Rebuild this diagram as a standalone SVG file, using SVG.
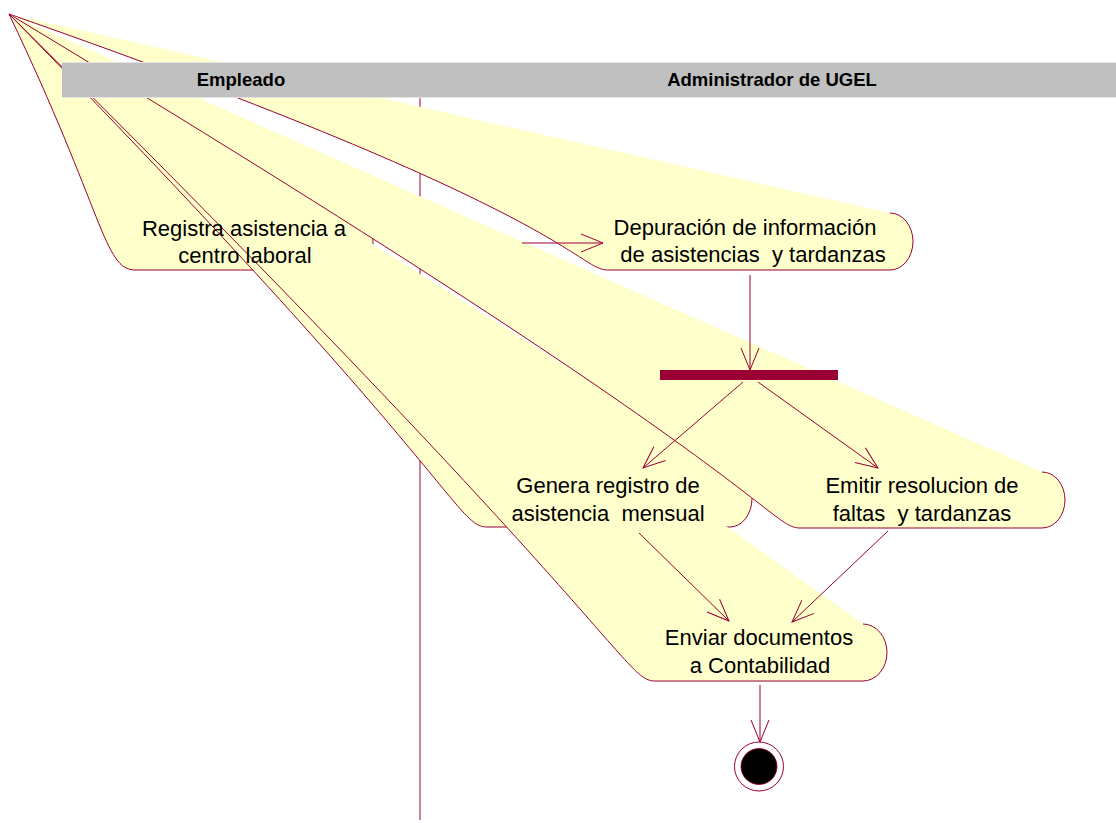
<svg xmlns="http://www.w3.org/2000/svg" width="1116" height="823" viewBox="0 0 1116 823">
<style>
.fill{fill:#FFFFCC;stroke:none}
.edge{fill:none;stroke:#990033;stroke-width:1}
.lbl{font-family:"Liberation Sans",Arial,sans-serif;font-size:22px;fill:#000;text-anchor:middle;white-space:pre}
.hdr{font-family:"Liberation Sans",Arial,sans-serif;font-size:18.5px;font-weight:bold;fill:#000;text-anchor:middle}
.conn{fill:none;stroke:#990033;stroke-width:1}
</style>
<defs>
<marker id="arr" markerUnits="userSpaceOnUse" markerWidth="30" markerHeight="24" viewBox="-25 -12 27 24" refX="0" refY="0" orient="auto">
<path d="M-22,-9 L0,0 L-22,9" fill="none" stroke="#990033" stroke-width="1"/>
</marker>
</defs>
<rect width="1116" height="823" fill="#fff"/>
<g id="swimlane-divider">
<line x1="420" y1="98" x2="420" y2="820" stroke="#990033" stroke-width="1"/>
</g>
<g id="node-registra">
<path class="fill" d="M9 14 L350 213 A23 28.5 0 0 1 350 270 L135 270 C104 270 104 213 9 14 Z"/>
<path class="edge" d="M350 213 A23 28.5 0 0 1 350 270 L135 270 C104 270 104 213 9 14"/>
</g>
<g id="node-depuracion">
<path class="fill" d="M9 14 L890 213 A23 28.5 0 0 1 890 270 L608 270 C577 270 577 213 9 14 Z"/>
<path class="edge" d="M890 213 A23 28.5 0 0 1 890 270 L608 270 C577 270 577 213 9 14"/>
</g>
<g id="node-genera">
<path class="fill" d="M9 14 L730 470 A22 28.5 0 0 1 730 527 L487 527 C456 527 456 470 9 14 Z"/>
<path class="edge" d="M730 470 A22 28.5 0 0 1 730 527 L487 527 C456 527 456 470 9 14"/>
</g>
<g id="node-emitir">
<path class="fill" d="M9 14 L1042 472 A23 28 0 0 1 1042 528 L800 528 C769 528 769 472 9 14 Z"/>
<path class="edge" d="M1042 472 A23 28 0 0 1 1042 528 L800 528 C769 528 769 472 9 14"/>
</g>
<g id="node-enviar">
<path class="fill" d="M9 14 L863 624 A24 28.5 0 0 1 863 681 L655 681 C624 681 624 624 9 14 Z"/>
<path class="edge" d="M863 624 A24 28.5 0 0 1 863 681 L655 681 C624 681 624 624 9 14"/>
</g>
<g id="labels">
<text id="label-registra" class="lbl"><tspan x="244" y="236">Registra asistencia a</tspan><tspan x="245" y="263">centro laboral</tspan></text>
<text id="label-depuracion" class="lbl"><tspan x="745" y="235">Depuración de información</tspan><tspan x="753" y="262">de asistencias  y tardanzas</tspan></text>
<text id="label-genera" class="lbl"><tspan x="608" y="493">Genera registro de</tspan><tspan x="608" y="521">asistencia  mensual</tspan></text>
<text id="label-emitir" class="lbl"><tspan x="922" y="493">Emitir resolucion de</tspan><tspan x="922" y="521">faltas  y tardanzas</tspan></text>
<text id="label-enviar" class="lbl"><tspan x="759" y="645">Enviar documentos</tspan><tspan x="760" y="673">a Contabilidad</tspan></text>
</g>
<g id="node-fork">
<rect x="660" y="370" width="178" height="10" fill="#990033"/>
</g>
<g id="node-final">
<circle cx="759" cy="766.5" r="24.5" fill="#fff" stroke="#990033" stroke-width="1"/>
<circle cx="759" cy="766.5" r="18" fill="#000" stroke="#990033" stroke-width="0.8"/>
</g>
<g id="connectors">
<line class="conn" x1="522" y1="243" x2="603" y2="243" marker-end="url(#arr)"/>
<line class="conn" x1="750" y1="275" x2="750" y2="370" marker-end="url(#arr)"/>
<line class="conn" x1="743" y1="382" x2="643" y2="468" marker-end="url(#arr)"/>
<line class="conn" x1="758" y1="382" x2="878" y2="468" marker-end="url(#arr)"/>
<line class="conn" x1="639" y1="533" x2="729" y2="621" marker-end="url(#arr)"/>
<line class="conn" x1="888" y1="531" x2="792" y2="622" marker-end="url(#arr)"/>
<line class="conn" x1="760" y1="685" x2="760" y2="742" marker-end="url(#arr)"/>
</g>
<g id="swimlane-header">
<rect x="62" y="62" width="1060" height="36" fill="#C0C0C0"/>
<line x1="62" y1="62.5" x2="1116" y2="62.5" stroke="#E4E4E4" stroke-width="1"/>
<line x1="62" y1="97.5" x2="1116" y2="97.5" stroke="#E4E4E4" stroke-width="1"/>
<text class="hdr" x="241" y="86">Empleado</text>
<text class="hdr" x="772" y="86">Administrador de UGEL</text>
</g>
</svg>
